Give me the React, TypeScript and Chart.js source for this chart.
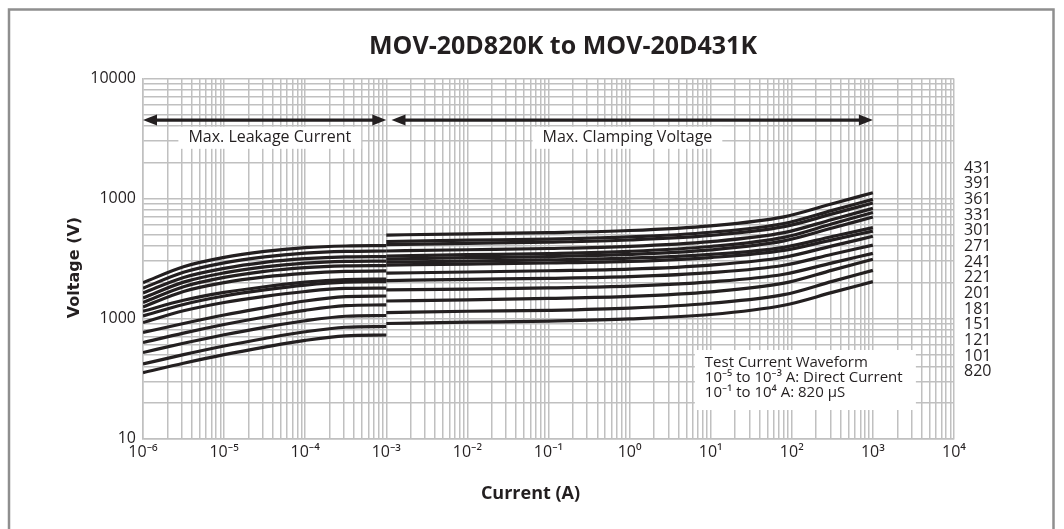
import React, { useEffect, useRef } from "react";
import { Chart, registerables } from "chart.js";

Chart.register(...registerables);

// ---------- data ----------
const seriesNames = ["431", "391", "361", "331", "301", "271", "241", "221", "201", "181", "151", "121", "101", "820"];

// Max. leakage current region (A)
const leakageCurrent = [1e-6, 3.16e-6, 1e-5, 3.16e-5, 1e-4, 3.16e-4, 1e-3];
const leak431 = [199, 270, 323, 362, 389, 402, 405];
const leak391 = [179, 243, 291, 326, 350, 362, 365];
const leak361 = [163, 220, 262, 294, 315, 326, 328];
const leak331 = [148, 201, 240, 269, 289, 299, 301];
const leak301 = [136, 184, 220, 247, 265, 274, 276];
const leak271 = [125, 168, 199, 222, 238, 247, 249];
const leak241 = [115, 142, 165, 184, 201, 211, 213];
const leak221 = [105, 131, 154, 173, 190, 201, 203];
const leak201 = [92.6, 116, 136, 153, 168, 178, 179];
const leak181 = [76.5, 91, 107, 123, 140, 152, 154];
const leak151 = [63.1, 75.6, 89.1, 103, 117, 128, 130];
const leak121 = [52.1, 62.2, 73.3, 84.5, 95.9, 104.5, 106];
const leak101 = [41.8, 50.0, 59.0, 68.2, 77.6, 84.6, 85.8];
const leak820 = [35.4, 42.4, 50.0, 57.8, 65.8, 71.8, 72.9];

// Max. clamping voltage region (A)
const clampCurrent = [1e-3, 1e-2, 1e-1, 1, 10, 80, 316, 1000];
const clamp431 = [496, 508, 520, 541, 592, 703, 903, 1116];
const clamp391 = [438, 449, 459, 478, 523, 619, 796, 983];
const clamp361 = [413, 423, 433, 451, 492, 582, 744, 916];
const clamp331 = [365, 374, 383, 399, 437, 519, 669, 827];
const clamp301 = [331, 340, 348, 363, 398, 474, 615, 763];
const clamp271 = [313, 321, 328, 342, 373, 443, 568, 700];
const clamp241 = [295, 301, 308, 318, 342, 392, 482, 572];
const clamp221 = [279, 284, 290, 299, 322, 369, 452, 535];
const clamp201 = [239, 244, 250, 258, 279, 324, 403, 484];
const clamp181 = [207, 212, 216, 223, 241, 278, 343, 409];
const clamp151 = [173, 176, 180, 186, 202, 234, 291, 349];
const clamp121 = [140, 143, 147, 153, 167, 197, 253, 312];
const clamp101 = [112, 115, 117, 122, 134, 158, 204, 252];
const clamp820 = [90.9, 93.2, 95.3, 99.2, 108, 129, 165, 203];

const leakSeries = [leak431, leak391, leak361, leak331, leak301, leak271, leak241, leak221, leak201, leak181, leak151, leak121, leak101, leak820];
const clampSeries = [clamp431, clamp391, clamp361, clamp331, clamp301, clamp271, clamp241, clamp221, clamp201, clamp181, clamp151, clamp121, clamp101, clamp820];

// axes
const xDecades = [1e-6, 1e-5, 1e-4, 1e-3, 1e-2, 1e-1, 1, 10, 100, 1000, 10000];
const xDecadeLabels = ["10\u207B\u2076", "10\u207B\u2075", "10\u207B\u2074", "10\u207B\u00B3", "10\u207B\u00B2", "10\u207B\u00B9", "10\u2070", "10\u00B9", "10\u00B2", "10\u00B3", "10\u2074"];
const yDecades = [10, 100, 1000, 10000];
const yDecadeLabels = ["10", "1000", "1000", "10000"];
const minorSteps = [1, 2, 3, 4, 5, 6, 7, 8, 9];

// annotations
const titleText = "MOV-20D820K to MOV-20D431K";
const xTitle = "Current (A)";
const yTitle = "Voltage (V)";
const arrowSpans = [[1e-6, 1e-3], [1.16e-3, 1e3]];
const arrowLevel = 4500;
const regionLabels = ["Max. Leakage Current", "Max. Clamping Voltage"];
const regionLabelX = [3.66e-5, 0.94];
const regionLabelLevel = 3200;
const waveLines = ["Test Current Waveform", "10\u207B\u2075 to 10\u207B\u00B3 A: Direct Current", "10\u207B\u00B9 to 10\u2074 A: 820 \u00B5S"];
const waveBoxX = [6.37, 3388];
const waveBoxY = [54.7, 17.3];
const nameColumnY = [1790, 36];

const ink = "#231f20";
const gridColor = "#c0c0c0";
const font = "'Open Sans', 'Noto Sans', sans-serif";

function buildGrid(decades: number[]) {
  const out: number[] = [];
  for (let i = 0; i < decades.length - 1; i++) {
    for (const m of minorSteps) out.push(m * decades[i]);
  }
  out.push(decades[decades.length - 1]);
  return out;
}
const xGrid = buildGrid(xDecades);
const yGrid = buildGrid(yDecades);

function decadeLabel(v: number, decades: number[], labels: string[]) {
  for (let i = 0; i < decades.length; i++) {
    if (Math.abs(v / decades[i] - 1) < 1e-6) return labels[i];
  }
  return "";
}

const annotationPlugin = {
  id: "movAnnotations",
  beforeDraw(chart: any) {
    const { ctx, width, height } = chart;
    ctx.save();
    ctx.fillStyle = "#ffffff";
    ctx.fillRect(0, 0, width, height);
    ctx.strokeStyle = "#8f8f8f";
    ctx.lineWidth = 2.5;
    ctx.strokeRect(9, 9.5, 1044.5, 560);
    ctx.restore();
  },
  afterDraw(chart: any) {
    const { ctx, chartArea } = chart;
    const xs = chart.scales.x;
    const ys = chart.scales.y;
    ctx.save();

    // arrows
    ctx.strokeStyle = ink;
    ctx.fillStyle = ink;
    ctx.lineWidth = 3.2;
    const head = 14;
    const half = 5.5;
    const ay = ys.getPixelForValue(arrowLevel);
    arrowSpans.forEach(([a, b]) => {
      const x1 = xs.getPixelForValue(a);
      const x2 = xs.getPixelForValue(b);
      ctx.beginPath();
      ctx.moveTo(x1 + head - 3, ay);
      ctx.lineTo(x2 - head + 3, ay);
      ctx.stroke();
      ctx.beginPath();
      ctx.moveTo(x1, ay);
      ctx.lineTo(x1 + head, ay - half);
      ctx.lineTo(x1 + head, ay + half);
      ctx.closePath();
      ctx.fill();
      ctx.beginPath();
      ctx.moveTo(x2, ay);
      ctx.lineTo(x2 - head, ay - half);
      ctx.lineTo(x2 - head, ay + half);
      ctx.closePath();
      ctx.fill();
    });

    // region labels with white backing
    ctx.font = `16px ${font}`;
    ctx.textBaseline = "middle";
    ctx.textAlign = "center";
    const ly = ys.getPixelForValue(regionLabelLevel);
    regionLabels.forEach((t, i) => {
      const cx = xs.getPixelForValue(regionLabelX[i]);
      const w = ctx.measureText(t).width;
      ctx.fillStyle = "#ffffff";
      ctx.fillRect(cx - w / 2 - 10, ly - 11, w + 20, 22);
      ctx.fillStyle = ink;
      ctx.fillText(t, cx, ly);
    });

    // test waveform box
    const bx1 = xs.getPixelForValue(waveBoxX[0]);
    const bx2 = xs.getPixelForValue(waveBoxX[1]);
    const by1 = ys.getPixelForValue(waveBoxY[0]);
    const by2 = ys.getPixelForValue(waveBoxY[1]);
    ctx.fillStyle = "#ffffff";
    ctx.fillRect(bx1, by1, bx2 - bx1, by2 - by1);
    ctx.fillStyle = ink;
    ctx.textAlign = "left";
    ctx.font = `15px ${font}`;
    waveLines.forEach((t, i) => {
      ctx.fillText(t, bx1 + 10, by1 + 12.5 + i * 15);
    });

    // series name column
    ctx.font = `16px ${font}`;
    const c0 = ys.getPixelForValue(nameColumnY[0]);
    const c1 = ys.getPixelForValue(nameColumnY[1]);
    const step = (c1 - c0) / (seriesNames.length - 1);
    seriesNames.forEach((n, i) => {
      ctx.fillText(n, chartArea.right + 10, c0 + i * step);
    });

    // axis titles
    ctx.textAlign = "center";
    ctx.font = `bold 18px ${font}`;
    ctx.fillText(xTitle, 530.5, 494);
    ctx.save();
    ctx.translate(75, 267.5);
    ctx.rotate(-Math.PI / 2);
    ctx.font = "bold 16px 'DejaVu Sans', sans-serif";
    ctx.fillText(yTitle, 0, 0);
    ctx.restore();

    ctx.restore();
  },
};

export default function App() {
  const ref = useRef<HTMLCanvasElement>(null);

  useEffect(() => {
    const style = {
      borderColor: ink,
      backgroundColor: ink,
      borderWidth: 3.2,
      pointRadius: 0,
      pointHoverRadius: 0,
      fill: false,
      tension: 0.4,
      cubicInterpolationMode: "monotone" as const,
    };
    const datasets: any[] = [];
    seriesNames.forEach((name, i) => {
      datasets.push({
        label: `${name} leakage`,
        data: leakageCurrent.map((c, j) => ({ x: c, y: leakSeries[i][j] })),
        ...style,
      });
      datasets.push({
        label: `${name} clamping`,
        data: clampCurrent.map((c, j) => ({ x: c, y: clampSeries[i][j] })),
        ...style,
      });
    });

    const chart = new Chart(ref.current as HTMLCanvasElement, {
      type: "line",
      data: { datasets },
      options: {
        responsive: false,
        animation: false,
        layout: { padding: { left: 62, right: 0, top: 0, bottom: 0 } },
        plugins: {
          legend: { display: false },
          tooltip: { enabled: false },
          title: {
            display: true,
            text: titleText,
            color: ink,
            font: { family: font, size: 25, weight: "bold" },
            padding: { top: 32, bottom: 16.4 },
          },
        },
        scales: {
          x: {
            type: "logarithmic",
            position: "bottom",
            min: 1e-6,
            max: 1e4,
            afterBuildTicks: (s: any) => {
              s.ticks = xGrid.map((v) => ({ value: v }));
            },
            afterFit: (s: any) => {
              s.height = 90.4;
            },
            grid: { color: gridColor, lineWidth: 1.5, drawTicks: false },
            border: { color: gridColor, width: 1.5 },
            ticks: {
              autoSkip: false,
              maxRotation: 0,
              minRotation: 0,
              padding: 4,
              color: ink,
              font: { family: font, size: 16 },
              callback: (v: any) => decadeLabel(Number(v), xDecades, xDecadeLabels),
            },
          },
          y: {
            type: "logarithmic",
            position: "left",
            min: 10,
            max: 10000,
            afterBuildTicks: (s: any) => {
              s.ticks = yGrid.map((v) => ({ value: v }));
            },
            afterFit: (s: any) => {
              s.width = 81;
            },
            grid: { color: gridColor, lineWidth: 1.5, drawTicks: false },
            border: { color: gridColor, width: 1.5 },
            ticks: {
              autoSkip: false,
              padding: 7,
              color: ink,
              font: { family: font, size: 16 },
              callback: (v: any) => decadeLabel(Number(v), yDecades, yDecadeLabels),
            },
          },
          y2: {
            type: "linear",
            position: "right",
            display: true,
            grid: { display: false, drawOnChartArea: false },
            border: { display: false },
            ticks: { display: false },
            afterFit: (s: any) => {
              s.width = 110;
            },
          },
        },
      },
      plugins: [annotationPlugin],
    });
    return () => chart.destroy();
  }, []);

  return (
    <canvas
      ref={ref}
      width={1064}
      height={529}
      style={{ position: "fixed", left: 0, top: 0, width: 1064, height: 529, display: "block" }}
    />
  );
}
